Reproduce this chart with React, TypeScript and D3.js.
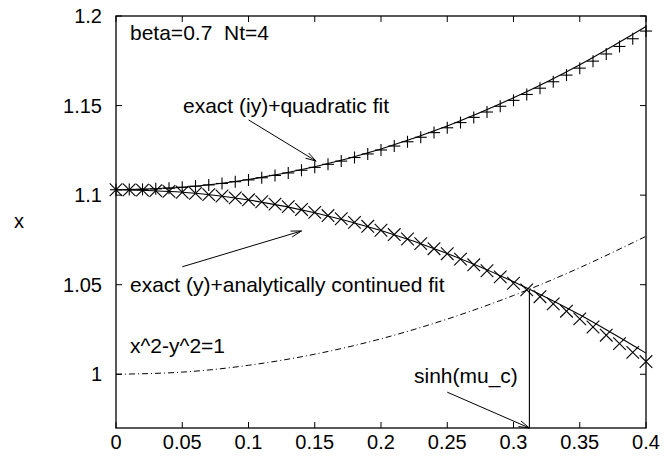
import React from "react";
import * as d3 from "d3";

const W = 665;
const H = 459;

// sample positions (y-parameter) of the exact data points
const tPoints = [
  0.0, 0.01, 0.02, 0.03, 0.04, 0.05, 0.06, 0.07, 0.08, 0.09, 0.1, 0.11, 0.12, 0.13,
  0.14, 0.15, 0.16, 0.17, 0.18, 0.19, 0.2, 0.21, 0.22, 0.23, 0.24, 0.25, 0.26, 0.27,
  0.28, 0.29, 0.3, 0.31, 0.32, 0.33, 0.34, 0.35, 0.36, 0.37, 0.38, 0.39, 0.4,
];
// exact (iy) values  ("+" markers)
const exactIy = [
  1.103, 1.1031, 1.1032, 1.1035, 1.1039, 1.1044, 1.105, 1.1057, 1.1065, 1.1075, 1.1085,
  1.1097, 1.111, 1.1124, 1.1139, 1.1155, 1.1172, 1.119, 1.121, 1.123, 1.1252, 1.1274,
  1.1298, 1.1323, 1.1349, 1.1376, 1.1405, 1.1434, 1.1464, 1.1496, 1.1529, 1.1562, 1.1597,
  1.1633, 1.167, 1.1709, 1.1748, 1.1788, 1.183, 1.1873, 1.1916,
];
// exact (y) values  ("x" markers)
const exactY = [
  1.103, 1.1029, 1.1028, 1.1025, 1.1021, 1.1016, 1.101, 1.1003, 1.0995, 1.0985, 1.0974,
  1.0963, 1.095, 1.0936, 1.092, 1.0904, 1.0886, 1.0868, 1.0848, 1.0826, 1.0804, 1.078,
  1.0755, 1.0729, 1.0701, 1.0673, 1.0643, 1.0611, 1.0578, 1.0544, 1.0508, 1.0471, 1.0433,
  1.0393, 1.0352, 1.0309, 1.0264, 1.0218, 1.0171, 1.0122, 1.0071,
];

// curve sample positions
const tCurve = [0.0, 0.05, 0.1, 0.15, 0.2, 0.25, 0.3, 0.35, 0.4];
const quadFit = [1.103, 1.1044, 1.1087, 1.1158, 1.1258, 1.1386, 1.1543, 1.1728, 1.1942];
const contFit = [1.103, 1.1016, 1.0973, 1.0902, 1.0802, 1.0674, 1.0517, 1.0332, 1.0118];
const hyperbola = [1.0, 1.0012, 1.005, 1.0112, 1.0198, 1.0308, 1.044, 1.0595, 1.077];

const xTicks = [0, 0.05, 0.1, 0.15, 0.2, 0.25, 0.3, 0.35, 0.4];
const xTickLabels = ["0", "0.05", "0.1", "0.15", "0.2", "0.25", "0.3", "0.35", "0.4"];
const yTicks = [1, 1.05, 1.1, 1.15, 1.2];
const yTickLabels = ["1", "1.05", "1.1", "1.15", "1.2"];

const muC = 0.312;
const muCx = 1.047;

// arrows: [x1, y1, x2, y2] in data coordinates
const arrowIy = [0.1, 1.142, 0.151, 1.119];
const arrowY = [0.05, 1.06, 0.14, 1.08];
const arrowSinh = [0.25, 0.99, muC, 0.97];

const FONT = "'Liberation Sans', Arial, Helvetica, sans-serif";
const FS = 20;
const FL = 21;

export default function App() {
  const left = 116;
  const right = 646;
  const top = 16;
  const bottom = 428;

  const x = d3.scaleLinear().domain([0, 0.4]).range([left, right]);
  const y = d3.scaleLinear().domain([0.97, 1.2]).range([bottom, top]);

  const line = d3
    .line<[number, number]>()
    .x((d) => x(d[0]))
    .y((d) => y(d[1]))
    .curve(d3.curveNatural);

  const quadPath = line(tCurve.map((t, i) => [t, quadFit[i]]) as [number, number][]) || "";
  const contPath = line(tCurve.map((t, i) => [t, contFit[i]]) as [number, number][]) || "";
  const hypPath = line(tCurve.map((t, i) => [t, hyperbola[i]]) as [number, number][]) || "";

  const tick = 6;
  const ms = 6;
  const msx = 6.3;

  const arrow = (a: number[], key: string) => {
    const x1 = x(a[0]);
    const y1 = y(a[1]);
    const x2 = x(a[2]);
    const y2 = y(a[3]);
    const ang = Math.atan2(y2 - y1, x2 - x1);
    const hl = 11;
    const ha = (16 * Math.PI) / 180;
    const p1 = [x2 - hl * Math.cos(ang - ha), y2 - hl * Math.sin(ang - ha)];
    const p2 = [x2 - hl * Math.cos(ang + ha), y2 - hl * Math.sin(ang + ha)];
    return (
      <g key={key} stroke="#000" strokeWidth={1} fill="none">
        <line x1={x1} y1={y1} x2={x2} y2={y2} />
        <polyline points={`${p1[0]},${p1[1]} ${x2},${y2} ${p2[0]},${p2[1]}`} />
      </g>
    );
  };

  return (
    <svg
      width={W}
      height={H}
      viewBox={`0 0 ${W} ${H}`}
      style={{ position: "absolute", left: 0, top: 0, background: "#fff" }}
      fontFamily={FONT}
      fontSize={FS}
    >
      <rect x={0} y={0} width={W} height={H} fill="#fff" />

      {/* ticks */}
      <g stroke="#000" strokeWidth={1}>
        {xTicks.map((v, i) => (
          <g key={"xt" + i}>
            <line x1={x(v)} x2={x(v)} y1={bottom} y2={bottom - tick} />
            <line x1={x(v)} x2={x(v)} y1={top} y2={top + tick} />
          </g>
        ))}
        {yTicks.map((v, i) => (
          <g key={"yt" + i}>
            <line x1={left} x2={left + tick} y1={y(v)} y2={y(v)} />
            <line x1={right} x2={right - tick} y1={y(v)} y2={y(v)} />
          </g>
        ))}
      </g>

      {/* tick labels */}
      <g fill="#000">
        {xTicks.map((v, i) => (
          <text key={"xl" + i} x={x(v)} y={449} textAnchor="middle">
            {xTickLabels[i]}
          </text>
        ))}
        {yTicks.map((v, i) => (
          <text key={"yl" + i} x={102} y={y(v) + 7} textAnchor="end">
            {yTickLabels[i]}
          </text>
        ))}
        <text x={19} y={228} textAnchor="middle">
          x
        </text>
      </g>

      {/* curves */}
      <path d={hypPath} fill="none" stroke="#000" strokeWidth={1} strokeDasharray="6,3,1,3" />
      <path d={quadPath} fill="none" stroke="#000" strokeWidth={1.1} />
      <path d={contPath} fill="none" stroke="#000" strokeWidth={1.1} />

      {/* vertical line at sinh(mu_c) */}
      <line x1={x(muC)} x2={x(muC)} y1={bottom} y2={y(muCx)} stroke="#000" strokeWidth={1.1} />

      {/* markers */}
      <g stroke="#000" strokeWidth={1.1}>
        {tPoints.map((t, i) => {
          const cx = x(t);
          const cy = y(exactIy[i]);
          return (
            <g key={"p" + i}>
              <line x1={cx - ms} x2={cx + ms} y1={cy} y2={cy} />
              <line x1={cx} x2={cx} y1={cy - ms} y2={cy + ms} />
            </g>
          );
        })}
        {tPoints.map((t, i) => {
          const cx = x(t);
          const cy = y(exactY[i]);
          return (
            <g key={"c" + i}>
              <line x1={cx - msx} x2={cx + msx} y1={cy - msx} y2={cy + msx} />
              <line x1={cx - msx} x2={cx + msx} y1={cy + msx} y2={cy - msx} />
            </g>
          );
        })}
      </g>

      {/* arrows */}
      {arrow(arrowIy, "a1")}
      {arrow(arrowY, "a2")}
      {arrow(arrowSinh, "a3")}

      {/* labels */}
      <g fill="#000" fontSize={FL}>
        <text x={130} y={40} style={{ whiteSpace: "pre" }}>
          {"beta=0.7  Nt=4"}
        </text>
        <text x={183} y={113}>exact (iy)+quadratic fit</text>
        <text x={130} y={292}>exact (y)+analytically continued fit</text>
        <text x={130} y={353}>x^2-y^2=1</text>
        <text x={414} y={383}>sinh(mu_c)</text>
      </g>

      {/* frame */}
      <rect
        x={left}
        y={top}
        width={right - left}
        height={bottom - top}
        fill="none"
        stroke="#000"
        strokeWidth={1.3}
      />
    </svg>
  );
}
